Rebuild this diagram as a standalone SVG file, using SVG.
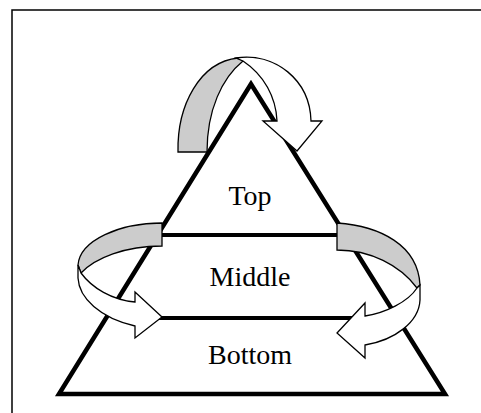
<svg xmlns="http://www.w3.org/2000/svg" width="481" height="413" viewBox="0 0 481 413">
<style>
.frame{fill:none;stroke:#000;stroke-width:1.5}
.tri{fill:none;stroke:#000;stroke-width:4.5;stroke-linejoin:miter;stroke-miterlimit:10}
.tier{stroke:#000;stroke-width:4}
.back{fill:#cccccc;stroke:#000;stroke-width:1.3;stroke-linejoin:miter}
.front{fill:#fff;stroke:#000;stroke-width:1.3;stroke-linejoin:miter}
.lbl{font-family:"Liberation Serif","Times New Roman",serif;font-size:28px;fill:#000;text-anchor:middle}
</style>
<rect class="frame" x="12" y="10" width="500" height="440"/>
<g id="pyramid">
<polygon class="tri" points="251,84 59,394 445,394"/>
<line class="tier" x1="156" y1="235" x2="346" y2="235"/>
<line class="tier" x1="158" y1="318" x2="358" y2="318"/>
</g>
<g id="node-top"><text class="lbl" x="250" y="205">Top</text></g>
<g id="node-middle"><text class="lbl" x="250" y="286">Middle</text></g>
<g id="node-bottom"><text class="lbl" x="250" y="364">Bottom</text></g>
<g id="connectors">
<g id="arrow-top">
<path class="back" d="M178,152 C177,105 200,62 238,58 L243,61 C222,78 207,110 207,152 Z"/>
<path class="front" d="M236,58 C275,52 310,80 311,121 L322,121 L297,151 L263,121 L277,121 C276,97 264,75 243,61 Z"/>
</g>
<g id="arrow-left">
<path class="back" d="M162,223 C120,223 80,240 78,265 L81,273 C95,258 125,246 162,246 Z"/>
<path class="front" d="M78,265 L78,278 C79,298 100,318 135,326 L135,338 L162,317 L135,292 L135,302 C112,300 92,288 81,273 Z"/>
</g>
<g id="arrow-right">
<path class="back" d="M337,223 C380,226 418,245 420,285 L417,288 C400,265 370,250 337,250 Z"/>
<path class="front" d="M420,285 L420,300 C419,322 395,340 365,345 L365,358 L337,333 L365,303 L365,316 C385,313 408,302 417,288 Z"/>
</g>
</g>
</svg>
